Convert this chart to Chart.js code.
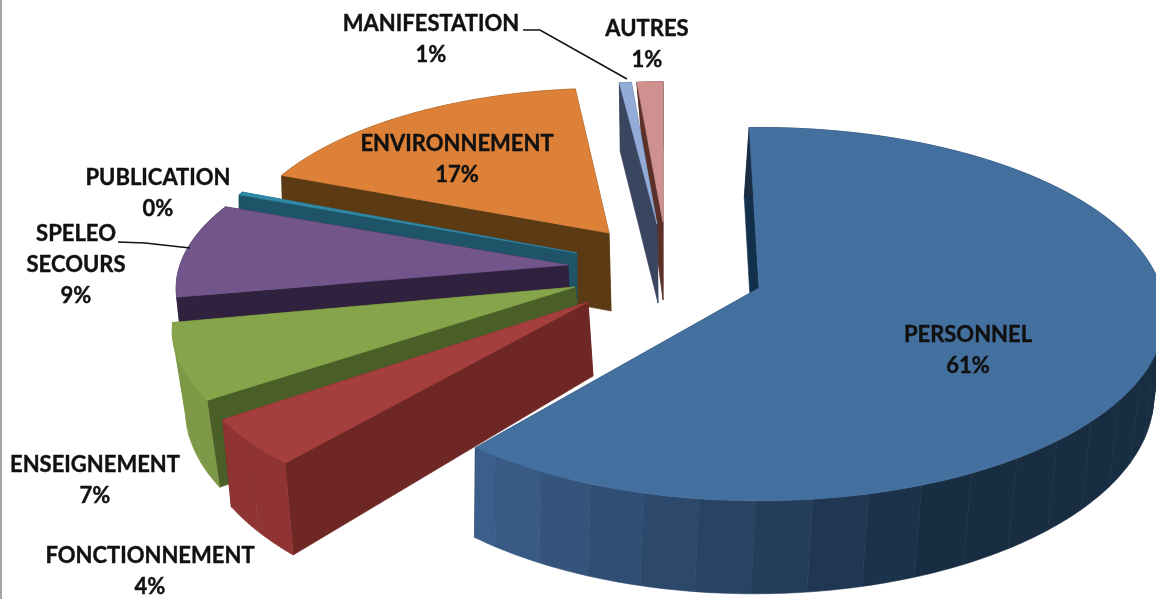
<!DOCTYPE html>
<html>
<head>
<meta charset="utf-8">
<script src="https://cdn.jsdelivr.net/npm/chart.js@4"></script>
<style>
  html, body { margin: 0; padding: 0; background: #fff; overflow: hidden; }
  canvas { display: block; }
</style>
</head>
<body>
<canvas id="pie-chart" width="1156" height="599"></canvas>
<script>
// chart values
var categories = ['PERSONNEL', 'FONCTIONNEMENT', 'ENSEIGNEMENT', ['SPELEO', 'SECOURS'], 'PUBLICATION', 'ENVIRONNEMENT', 'MANIFESTATION', 'AUTRES'];
var shares = [61.49, 4, 6.9, 9.2, 0.3, 17.4, 0.6, 1.3];

// colours per slice
var topColors = ['#44709F', '#A43F3E', '#86A44A', '#71558B', '#2F8AA6', '#DD8138', '#93ACD7', '#CF9090'];
var cutColors = ['#12304C', '#6E2725', '#4A5F28', '#30213F', '#1F5468', '#5C3A14', '#3A4560', '#5A3028'];
var wallLight = ['#3C5F8C', '#8F3433', '#7D9846', '#30213F', '#1F5468', '#5C3A14', '#3A4560', '#5A3028'];
var wallDark = ['#182C42', '#8F3433', '#7D9846', '#30213F', '#1F5468', '#5C3A14', '#3A4560', '#5A3028'];

// every slice sits on its own spot of the exploded view: ax,ay = tip, sc,sa = radii, b = perspective,
// depth and dx/k = where the underside lands, turn/grow = small corrections in degrees
var sliceViews = [
  { ax: 759, ay: 288, sc: 402, sa: 183, b: 0.14, depth: 80, dx: -5, k: 0.985, turn: -0.6, grow: 1.8 },
  { ax: 588, ay: 302, sc: 388, sa: 167, b: 0.25, depth: 74, dx: 5, k: 0.99, turn: 1.2, grow: 0 },
  { ax: 575, ay: 287, sc: 390, sa: 162, b: 0.25, depth: 74, dx: 9, k: 0.99, turn: 1.45, grow: 0 },
  { ax: 568, ay: 265, sc: 388, sa: 165, b: 0.14, depth: 62, dx: 3, k: 0.99, turn: 2.5, grow: 0 },
  { ax: 577, ay: 253, sc: 379, sa: 173, b: 0.14, depth: 70, dx: 0, k: 1, turn: 1.4, grow: 0 },
  { ax: 609, ay: 233, sc: 370, sa: 165, b: 0.14, depth: 78, dx: 2, k: 1, turn: 1.2, grow: 0.6 },
  { ax: 657, ay: 224, sc: 370, sa: 162, b: 0.14, depth: 79, dx: 1, k: 1, turn: 1.1, grow: 0 },
  { ax: 663, ay: 222, sc: 370, sa: 160, b: 0.14, depth: 78, dx: 0, k: 0.77, turn: 1, grow: 0 }
];

// label spots: centre x, first line middle y
var labelSpots = [[968, 335], [150, 556], [95, 465], [76, 234], [158, 178], [457, 144], [431, 24], [647, 29]];
var lineHeight = 31;
var leaderLines = [
  [[523, 30], [540, 30], [627, 79]],
  [[118, 242], [145, 243], [190, 248]]
];
var bandWidth = 7 * Math.PI / 180;

function project(view, angle, bottom) {
  var X = Math.cos(angle), Y = Math.sin(angle);
  var w = 1 - view.b * Y;
  if (!bottom) return [view.ax + view.sc * X / w, view.ay + view.sa * Y / w];
  return [view.ax + view.dx + view.sc * view.k * X / w, view.ay + (view.sa * Y + view.depth) / w];
}

function apex(view, bottom) {
  if (!bottom) return [view.ax, view.ay];
  return [view.ax + view.dx, view.ay + view.depth];
}

function fillPoly(ctx, pts, color) {
  ctx.beginPath();
  ctx.moveTo(pts[0][0], pts[0][1]);
  for (var i = 1; i < pts.length; i++) ctx.lineTo(pts[i][0], pts[i][1]);
  ctx.closePath();
  ctx.fillStyle = color;
  ctx.strokeStyle = color;
  ctx.lineWidth = 0.6;
  ctx.fill();
  ctx.stroke();
}

function hexRgb(h) {
  return [parseInt(h.substr(1, 2), 16), parseInt(h.substr(3, 2), 16), parseInt(h.substr(5, 2), 16)];
}

// outer wall goes from dark on the right to lighter at the front left
function wallColor(i, angle) {
  var deg = angle * 180 / Math.PI;
  var t = Math.max(0, Math.min(1, (deg - 66) / 62));
  var a = hexRgb(wallDark[i]), b = hexRgb(wallLight[i]);
  return 'rgb(' + [0, 1, 2].map(function(c) { return Math.round(a[c] + (b[c] - a[c]) * t); }).join(',') + ')';
}

function arcPoints(view, from, to, bottom) {
  var pts = [];
  var steps = Math.max(2, Math.ceil(Math.abs(to - from) / 0.02));
  for (var j = 0; j <= steps; j++) pts.push(project(view, from + (to - from) * j / steps, bottom));
  return pts;
}

function drawSlice(ctx, arc, i) {
  var view = sliceViews[i];
  var start = arc.startAngle + view.turn * Math.PI / 180;
  var end = arc.endAngle + (view.turn + view.grow) * Math.PI / 180;

  // cut faces
  [start, end].forEach(function(a) {
    fillPoly(ctx, [apex(view), project(view, a), project(view, a, true), apex(view, true)], cutColors[i]);
  });

  // outer wall in bands, back to front
  var bands = [];
  for (var a0 = start; a0 < end; a0 += bandWidth) bands.push([a0, Math.min(end, a0 + bandWidth)]);
  bands.sort(function(p, q) { return Math.sin((p[0] + p[1]) / 2) - Math.sin((q[0] + q[1]) / 2); });
  bands.forEach(function(band) {
    var pts = arcPoints(view, band[0], band[1]).concat(arcPoints(view, band[1], band[0], true));
    fillPoly(ctx, pts, wallColor(i, (band[0] + band[1]) / 2));
  });

  // top face
  fillPoly(ctx, [apex(view)].concat(arcPoints(view, start, end)), arc.options.backgroundColor);
}

var pie3d = {
  id: 'pie3d',
  beforeDatasetsDraw: function(chart) {
    var ctx = chart.ctx;
    var arcs = chart.getDatasetMeta(0).data;
    ctx.save();
    for (var i = arcs.length - 1; i >= 0; i--) drawSlice(ctx, arcs[i], i);
    ctx.restore();
    return false;
  },
  afterDraw: function(chart) {
    var ctx = chart.ctx;
    ctx.save();
    ctx.fillStyle = '#A6A6A6';
    ctx.fillRect(0, 0, 2, 599);

    ctx.strokeStyle = '#111';
    ctx.lineWidth = 1.5;
    leaderLines.forEach(function(line) {
      ctx.beginPath();
      line.forEach(function(p, n) { n ? ctx.lineTo(p[0], p[1]) : ctx.moveTo(p[0], p[1]); });
      ctx.stroke();
    });

    ctx.font = 'bold 22px Lato';
    ctx.fillStyle = '#111';
    ctx.strokeStyle = '#111';
    ctx.lineWidth = 0.4;
    ctx.textAlign = 'center';
    ctx.textBaseline = 'middle';
    categories.forEach(function(name, i) {
      var lines = [].concat(name, Math.round(shares[i]) + '%');
      lines.forEach(function(text, n) {
        ctx.fillText(text, labelSpots[i][0], labelSpots[i][1] + n * lineHeight);
        ctx.strokeText(text, labelSpots[i][0], labelSpots[i][1] + n * lineHeight);
      });
    });
    ctx.restore();
  }
};

new Chart(document.getElementById('pie-chart'), {
  type: 'pie',
  data: {
    labels: categories,
    datasets: [{
      data: shares,
      backgroundColor: topColors,
      borderWidth: 0
    }]
  },
  options: {
    responsive: false,
    animation: false,
    rotation: -1,
    plugins: { legend: { display: false }, tooltip: { enabled: false } }
  },
  plugins: [pie3d]
});
</script>
</body>
</html>
